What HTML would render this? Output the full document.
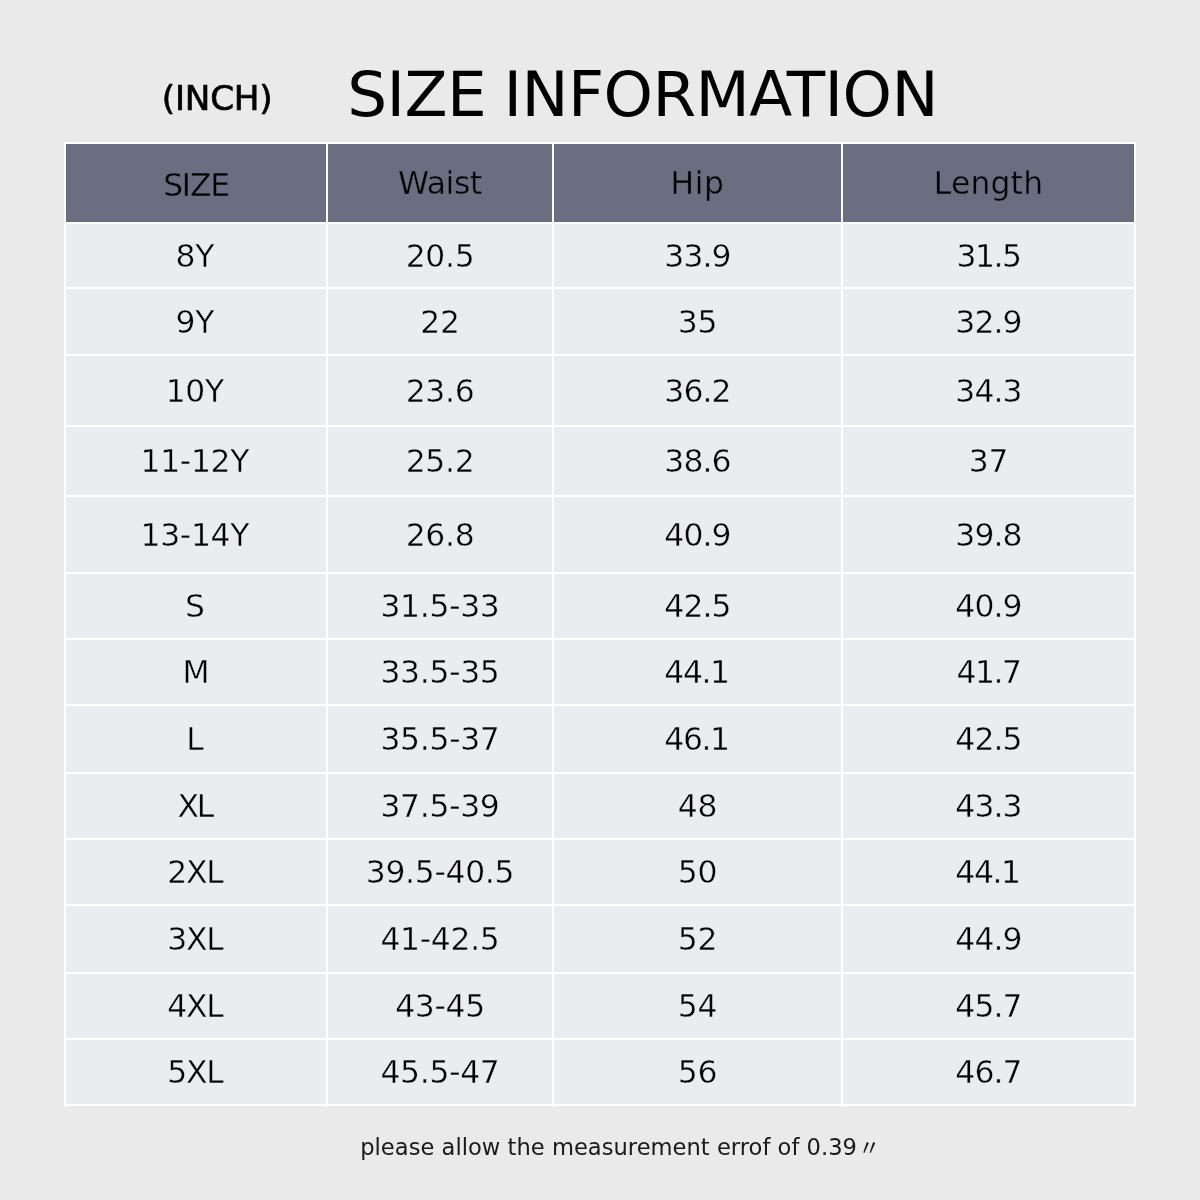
<!DOCTYPE html>
<html lang="en"><head><meta charset="utf-8"><title>Size Information</title>
<style>
*{margin:0;padding:0;box-sizing:border-box}
html,body{width:1200px;height:1200px;overflow:hidden}
body{background:#eaeaea;position:relative;font-family:"DejaVu Sans","Liberation Sans",sans-serif;color:#000}
#grid{position:absolute;left:64px;top:142px;width:1072px;height:964px;background:#fff}
.tail{position:absolute;top:1106px;width:2px;height:1px;background:#fff}
.c{position:absolute;background:#ebecf0;display:flex;align-items:center;justify-content:center;font-size:31.4px;line-height:1;letter-spacing:-0.3px;white-space:nowrap;-webkit-text-stroke:0.4px #ebecf0}
.c span{display:block;position:relative;top:1px}
.h{background:#6b6e80;color:#000;-webkit-text-stroke:0.4px #6b6e80}
#title{position:absolute;left:347.3px;top:57.4px;font-size:62.9px;line-height:76px;letter-spacing:-0.6px;word-spacing:-2px;white-space:nowrap;color:#000}
#inch{position:absolute;left:161.8px;top:76.3px;font-size:34.2px;line-height:44px;letter-spacing:-0.2px;white-space:nowrap;color:#000;-webkit-text-stroke:0.7px #000}
#note{position:absolute;left:360.2px;top:1132.8px;font-size:22.6px;line-height:28px;letter-spacing:0.02px;white-space:nowrap;color:#1a1a1a}
#ditto{position:relative;left:-6px;top:0.4px;font-family:"Noto Sans CJK SC","WenQuanYi Zen Hei",sans-serif;font-size:22px;line-height:1;letter-spacing:0}
</style></head>
<body>
<div id="inch">(INCH)</div>
<div id="title">SIZE INFORMATION</div>
<div id="grid"></div><div class="tail" style="left:64px"></div><div class="tail" style="left:326px"></div><div class="tail" style="left:552px"></div><div class="tail" style="left:841px"></div><div class="tail" style="left:1134px"></div>
<div class="c h" style="left:66px;top:144px;width:260px;height:78px"><span style="top:3px;letter-spacing:-1.2px">SIZE</span></div>
<div class="c h" style="left:328px;top:144px;width:224px;height:78px"><span>Waist</span></div>
<div class="c h" style="left:554px;top:144px;width:287px;height:78px"><span style="letter-spacing:0.5px">Hip</span></div>
<div class="c h" style="left:843px;top:144px;width:291px;height:78px"><span style="letter-spacing:0.2px">Length</span></div>
<div class="c" style="left:66px;top:224px;width:260px;height:63px"><span style="left:-1.2px">8Y</span></div>
<div class="c" style="left:328px;top:224px;width:224px;height:63px"><span>20.5</span></div>
<div class="c" style="left:554px;top:224px;width:287px;height:63px"><span style="letter-spacing:-0.9px">33.9</span></div>
<div class="c" style="left:843px;top:224px;width:291px;height:63px"><span style="letter-spacing:-1.5px">31.5</span></div>
<div class="c" style="left:66px;top:289px;width:260px;height:65px"><span style="left:-1.2px">9Y</span></div>
<div class="c" style="left:328px;top:289px;width:224px;height:65px"><span>22</span></div>
<div class="c" style="left:554px;top:289px;width:287px;height:65px"><span>35</span></div>
<div class="c" style="left:843px;top:289px;width:291px;height:65px"><span style="letter-spacing:-0.9px">32.9</span></div>
<div class="c" style="left:66px;top:356px;width:260px;height:69px"><span style="left:-1.2px">10Y</span></div>
<div class="c" style="left:328px;top:356px;width:224px;height:69px"><span>23.6</span></div>
<div class="c" style="left:554px;top:356px;width:287px;height:69px"><span style="letter-spacing:-0.9px">36.2</span></div>
<div class="c" style="left:843px;top:356px;width:291px;height:69px"><span style="letter-spacing:-0.9px">34.3</span></div>
<div class="c" style="left:66px;top:427px;width:260px;height:68px"><span style="left:-1.2px">11-12Y</span></div>
<div class="c" style="left:328px;top:427px;width:224px;height:68px"><span>25.2</span></div>
<div class="c" style="left:554px;top:427px;width:287px;height:68px"><span style="letter-spacing:-0.9px">38.6</span></div>
<div class="c" style="left:843px;top:427px;width:291px;height:68px"><span>37</span></div>
<div class="c" style="left:66px;top:497px;width:260px;height:75px"><span style="left:-1.2px">13-14Y</span></div>
<div class="c" style="left:328px;top:497px;width:224px;height:75px"><span>26.8</span></div>
<div class="c" style="left:554px;top:497px;width:287px;height:75px"><span style="letter-spacing:-0.9px">40.9</span></div>
<div class="c" style="left:843px;top:497px;width:291px;height:75px"><span style="letter-spacing:-0.9px">39.8</span></div>
<div class="c" style="left:66px;top:574px;width:260px;height:64px"><span style="left:-1.2px">S</span></div>
<div class="c" style="left:328px;top:574px;width:224px;height:64px"><span>31.5-33</span></div>
<div class="c" style="left:554px;top:574px;width:287px;height:64px"><span style="letter-spacing:-0.9px">42.5</span></div>
<div class="c" style="left:843px;top:574px;width:291px;height:64px"><span style="letter-spacing:-0.9px">40.9</span></div>
<div class="c" style="left:66px;top:640px;width:260px;height:64px"><span>M</span></div>
<div class="c" style="left:328px;top:640px;width:224px;height:64px"><span>33.5-35</span></div>
<div class="c" style="left:554px;top:640px;width:287px;height:64px"><span style="left:-1px;letter-spacing:-1.4px">44.1</span></div>
<div class="c" style="left:843px;top:640px;width:291px;height:64px"><span style="letter-spacing:-1.5px">41.7</span></div>
<div class="c" style="left:66px;top:706px;width:260px;height:66px"><span style="left:-1.2px">L</span></div>
<div class="c" style="left:328px;top:706px;width:224px;height:66px"><span>35.5-37</span></div>
<div class="c" style="left:554px;top:706px;width:287px;height:66px"><span style="left:-1px;letter-spacing:-1.4px">46.1</span></div>
<div class="c" style="left:843px;top:706px;width:291px;height:66px"><span style="letter-spacing:-0.9px">42.5</span></div>
<div class="c" style="left:66px;top:774px;width:260px;height:64px"><span style="letter-spacing:-2.3px;left:-1.2px">XL</span></div>
<div class="c" style="left:328px;top:774px;width:224px;height:64px"><span>37.5-39</span></div>
<div class="c" style="left:554px;top:774px;width:287px;height:64px"><span>48</span></div>
<div class="c" style="left:843px;top:774px;width:291px;height:64px"><span style="letter-spacing:-0.9px">43.3</span></div>
<div class="c" style="left:66px;top:840px;width:260px;height:64px"><span style="letter-spacing:-1.3px;left:-1.2px">2XL</span></div>
<div class="c" style="left:328px;top:840px;width:224px;height:64px"><span>39.5-40.5</span></div>
<div class="c" style="left:554px;top:840px;width:287px;height:64px"><span>50</span></div>
<div class="c" style="left:843px;top:840px;width:291px;height:64px"><span style="left:-1px;letter-spacing:-1.4px">44.1</span></div>
<div class="c" style="left:66px;top:906px;width:260px;height:66px"><span style="letter-spacing:-1.3px;left:-1.2px">3XL</span></div>
<div class="c" style="left:328px;top:906px;width:224px;height:66px"><span>41-42.5</span></div>
<div class="c" style="left:554px;top:906px;width:287px;height:66px"><span>52</span></div>
<div class="c" style="left:843px;top:906px;width:291px;height:66px"><span style="letter-spacing:-0.9px">44.9</span></div>
<div class="c" style="left:66px;top:974px;width:260px;height:64px"><span style="letter-spacing:-1.3px;left:-1.2px">4XL</span></div>
<div class="c" style="left:328px;top:974px;width:224px;height:64px"><span>43-45</span></div>
<div class="c" style="left:554px;top:974px;width:287px;height:64px"><span>54</span></div>
<div class="c" style="left:843px;top:974px;width:291px;height:64px"><span style="letter-spacing:-0.9px">45.7</span></div>
<div class="c" style="left:66px;top:1040px;width:260px;height:64px"><span style="letter-spacing:-1.3px;left:-1.2px">5XL</span></div>
<div class="c" style="left:328px;top:1040px;width:224px;height:64px"><span>45.5-47</span></div>
<div class="c" style="left:554px;top:1040px;width:287px;height:64px"><span>56</span></div>
<div class="c" style="left:843px;top:1040px;width:291px;height:64px"><span style="letter-spacing:-0.9px">46.7</span></div>
<div id="note">please allow the measurement errof of 0.39 <span id="ditto">〃</span></div>
</body></html>
